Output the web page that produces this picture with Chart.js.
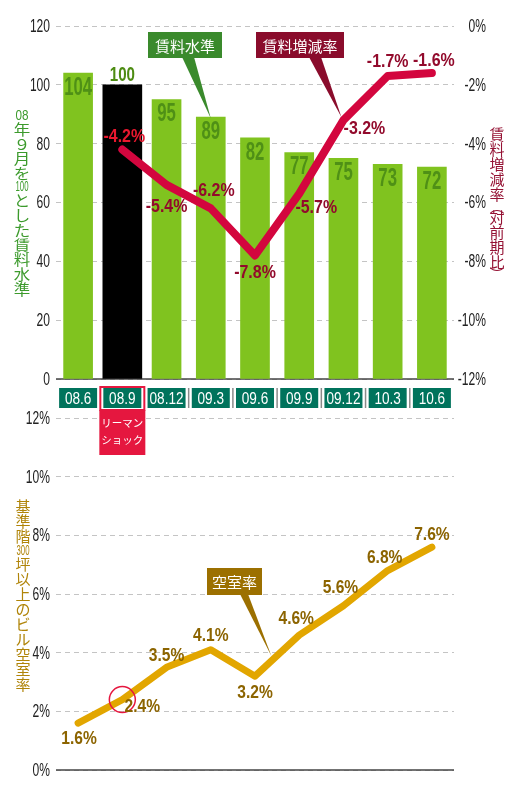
<!DOCTYPE html>
<html>
<head>
<meta charset="utf-8">
<script src="https://cdn.jsdelivr.net/npm/chart.js@4"></script>
<style>
  body { margin: 0; background: #fff; }
  #wrap { position: relative; width: 520px; height: 790px; }
  #bottomChart { position: absolute; left: 0; top: 400px; z-index: 1; }
  #topChart { position: absolute; left: 0; top: 0; z-index: 2; }
</style>
</head>
<body>
<div id="wrap">
  <canvas id="bottomChart" width="520" height="390"></canvas>
  <canvas id="topChart" width="520" height="460"></canvas>
</div>
<script>
// data
var categories = ['08.6', '08.9', '08.12', '09.3', '09.6', '09.9', '09.12', '10.3', '10.6'];
var rentLevel = [104, 100, 95, 89, 82, 77, 75, 73, 72];          // 08年9月=100
var rentChange = [null, -4.2, -5.4, -6.2, -7.8, -5.7, -3.2, -1.7, -1.6]; // 対前期比 %
var vacancy = [1.6, 2.4, 3.5, 4.1, 3.2, 4.6, 5.6, 6.8, 7.6];      // 空室率 %
var shockIndex = 1; // リーマンショック
var levelTicks = { min: 0, max: 120, step: 20 };
var changeTicks = { min: -12, max: 0, step: 2 };
var vacancyTicks = { min: 0, max: 12, step: 2 };

// no condensed face installed, so Liberation Sans gets squeezed by hand
var SANS = '"Liberation Sans", Arial, sans-serif';
var CJK = '"Noto Sans CJK JP", "Noto Sans", sans-serif';

var greenBars = rentLevel.map(function (v, i) { return i === shockIndex ? null : v; });
var blackBars = rentLevel.map(function (v, i) { return i === shockIndex ? v : null; });

// label offsets from each point (style, not data)
var changeLabelOff = [null, [2, -13], [0, 22], [3, -18], [0, 17], [17, 14], [21, 9], [0, -14], [2, -12]];
var vacancyLabelOff = [[1, 16], [20, 7], [0, -12], [0, -14], [0, 17], [-3, -16], [-3, -18], [-3, -13], [0, -12]];

function sqText(ctx, txt, x, y, font, color, sx, align) {
    ctx.save();
    ctx.font = font;
    ctx.fillStyle = color;
    ctx.textAlign = align || 'center';
    ctx.textBaseline = 'middle';
    ctx.translate(x, y);
    ctx.scale(sx, 1);
    ctx.fillText(txt, 0, 0);
    ctx.restore();
}

// vertical Japanese axis title, digit groups set sideways-in-line
function vText(ctx, parts, x, y, size, step, color, wx) {
    var cy = y;
    parts.forEach(function (p) {
        if (/^[0-9]+$/.test(p)) {
            var h = size * 0.72;
            ctx.font = size + 'px ' + SANS;
            var w = ctx.measureText(p).width;
            var sx = Math.min(0.9, (size - 2) / w);
            sqText(ctx, p, x, cy + h / 2 + 1, size + 'px ' + SANS, color, sx);
            cy += h + 2;
        } else if (p === '︵' || p === '︶') {
            sqText(ctx, p, x, cy + 4, size + 'px ' + CJK, color, 1);
            cy += 8;
        } else {
            sqText(ctx, p, x, cy + step / 2, size + 'px ' + CJK, color, wx || 1);
            cy += step;
        }
    });
}

function callout(ctx, box, text, color, tip, base, size) {
    ctx.save();
    ctx.fillStyle = color;
    ctx.beginPath();
    ctx.moveTo(base[0], box[1] + box[3] - 1);
    ctx.lineTo(tip[0], tip[1]);
    ctx.lineTo(base[1], box[1] + box[3] - 1);
    ctx.closePath();
    ctx.fill();
    ctx.fillRect(box[0], box[1], box[2], box[3]);
    ctx.fillStyle = '#fff';
    ctx.font = size + 'px ' + CJK;
    ctx.textAlign = 'center';
    ctx.textBaseline = 'middle';
    ctx.fillText(text, box[0] + box[2] / 2, box[1] + box[3] / 2 + 1);
    ctx.restore();
}

function baseline(chart, scaleId, value) {
    var ctx = chart.ctx, a = chart.chartArea;
    var y = chart.scales[scaleId].getPixelForValue(value);
    ctx.save();
    ctx.strokeStyle = '#444';
    ctx.lineWidth = 1.5;
    ctx.beginPath();
    ctx.moveTo(a.left, y);
    ctx.lineTo(a.right, y);
    ctx.stroke();
    ctx.restore();
}

// tick labels squeezed to look condensed
function drawTicks(chart, scaleId, x, align) {
    var s = chart.scales[scaleId];
    s.ticks.forEach(function (t) {
        sqText(chart.ctx, t.label, x, s.getPixelForValue(t.value) + 1, '18px ' + SANS, '#222', 0.67, align);
    });
}

var topDecor = {
    id: 'topDecor',
    beforeDatasetsDraw: function (chart) {
        baseline(chart, 'y', 0);
    },
    afterDatasetsDraw: function (chart) {
        var ctx = chart.ctx;
        var lineMeta = chart.getDatasetMeta(0);
        var greenMeta = chart.getDatasetMeta(1);
        var blackMeta = chart.getDatasetMeta(2);
        // bar values
        rentLevel.forEach(function (v, i) {
            if (i === shockIndex) {
                var b = blackMeta.data[i];
                sqText(ctx, String(v), b.x, b.y - 10, 'bold 21px ' + SANS, '#4d8c12', 0.72);
            } else {
                var g = greenMeta.data[i];
                sqText(ctx, String(v), g.x, g.y + 15, 'bold 25px ' + SANS, '#4f9016', 0.67);
            }
        });
        // change labels
        rentChange.forEach(function (v, i) {
            if (v === null) return;
            var p = lineMeta.data[i];
            var o = changeLabelOff[i];
            var col = i === shockIndex ? '#e8182f' : '#920a2c';
            sqText(ctx, v.toFixed(1) + '%', p.x + o[0], p.y + o[1], 'bold 19px ' + SANS, col, 0.84);
        });
    },
    afterDraw: function (chart) {
        var ctx = chart.ctx;
        var x = chart.scales.x;
        var top = 388, h = 20, w = 38;
        drawTicks(chart, 'y', 50, 'right');
        drawTicks(chart, 'yR', 486, 'right');
        ctx.save();
        // category boxes
        categories.forEach(function (c, i) {
            var cx = x.getPixelForValue(i);
            if (i === shockIndex) {
                ctx.fillStyle = '#e5173f';
                ctx.fillRect(cx - 23, top + h + 2, 46, 45);
                ctx.strokeStyle = '#e5173f';
                ctx.lineWidth = 2;
                ctx.strokeRect(cx - 22, top - 1, 44, h + 3);
                ctx.fillStyle = '#fff';
                ctx.font = '10.5px ' + CJK;
                ctx.textAlign = 'center';
                ctx.textBaseline = 'middle';
                ctx.fillText('リーマン', cx, top + h + 15);
                ctx.fillText('ショック', cx, top + h + 32);
            }
            ctx.fillStyle = '#00735c';
            ctx.fillRect(cx - w / 2, top, w, h);
            sqText(ctx, c, cx, top + h / 2 + 1, '17px ' + SANS, '#fff', 0.8);
            if (i > shockIndex + 1) {
                var dx = (x.getPixelForValue(i - 1) + cx) / 2;
                ctx.strokeStyle = '#8a8a8a';
                ctx.lineWidth = 1.5;
                ctx.beginPath();
                ctx.moveTo(dx, top);
                ctx.lineTo(dx, top + h);
                ctx.stroke();
            }
        });
        ctx.restore();

        // callouts
        var g = chart.getDatasetMeta(1).data[3];
        callout(ctx, [148, 32, 74, 26], '賃料水準', '#3a8a2c', [g.x, g.y + 1], [182, 194], 15);
        var p = chart.getDatasetMeta(0).data[6];
        callout(ctx, [256, 32, 88, 26], '賃料増減率', '#8a0c2c', [p.x - 2, p.y - 3], [309, 321], 15);

        // axis titles
        vText(ctx, ['08', '年', '９', '月', 'を', '100', 'と', 'し', 'た', '賃', '料', '水', '準'], 22, 109, 15, 14.7, '#3c9a2c', 1.1);
        vText(ctx, ['賃', '料', '増', '減', '率', '︵', '対', '前', '期', '比', '︶'], 497, 127, 15, 15, '#951234', 1);
    }
};

var bottomDecor = {
    id: 'bottomDecor',
    beforeDatasetsDraw: function (chart) {
        baseline(chart, 'y', 0);
    },
    afterDatasetsDraw: function (chart) {
        var ctx = chart.ctx;
        var meta = chart.getDatasetMeta(0);
        // circle on the shock point
        var s = meta.data[shockIndex];
        ctx.save();
        ctx.strokeStyle = '#e5173f';
        ctx.lineWidth = 1.5;
        ctx.beginPath();
        ctx.arc(s.x, s.y, 13, 0, Math.PI * 2);
        ctx.stroke();
        ctx.restore();
        vacancy.forEach(function (v, i) {
            var p = meta.data[i];
            var o = vacancyLabelOff[i];
            sqText(ctx, v.toFixed(1) + '%', p.x + o[0], p.y + o[1], 'bold 19px ' + SANS, '#8c6400', 0.82);
        });
        var a = meta.data[4], b = meta.data[5];
        var t = 0.37;
        callout(ctx, [207, 168, 55, 27], '空室率', '#9c7000',
            [a.x + (b.x - a.x) * t, a.y + (b.y - a.y) * t - 5], [240, 248], 15);
        drawTicks(chart, 'y', 50, 'right');
        vText(ctx, ['基', '準', '階', '300', '坪', '以', '上', 'の', 'ビ', 'ル', '空', '室', '率'], 23, 99, 15, 15, '#b08408', 1);
    }
};

function pctTick(v) { return v + '%'; }

new Chart(document.getElementById('topChart').getContext('2d'), {
    type: 'bar',
    data: {
        labels: categories,
        datasets: [{
            type: 'line',
            data: rentChange,
            yAxisID: 'yR',
            borderColor: '#d3063e',
            borderWidth: 8,
            borderCapStyle: 'round',
            borderJoinStyle: 'round',
            pointRadius: 0,
            tension: 0,
            order: 0
        }, {
            data: greenBars,
            yAxisID: 'y',
            backgroundColor: '#80c31f',
            barThickness: 29,
            grouped: false,
            order: 1
        }, {
            data: blackBars,
            yAxisID: 'y',
            backgroundColor: '#000',
            barThickness: 39,
            grouped: false,
            order: 1
        }]
    },
    options: {
        responsive: false,
        animation: false,
        layout: { padding: { top: 26, bottom: 81, left: 0, right: 34 } },
        plugins: { legend: { display: false }, tooltip: { enabled: false } },
        scales: {
            x: { display: false, offset: true },
            y: {
                position: 'left',
                min: levelTicks.min, max: levelTicks.max,
                ticks: { stepSize: levelTicks.step, display: false },
                grid: { color: '#c4c4c4', drawTicks: false },
                border: { display: false, dash: [5, 4] },
                afterFit: function (s) { s.width = 56; }
            },
            yR: {
                position: 'right',
                min: changeTicks.min, max: changeTicks.max,
                ticks: { stepSize: changeTicks.step, display: false, callback: pctTick },
                grid: { display: false, drawTicks: false },
                border: { display: false },
                afterFit: function (s) { s.width = 32; }
            }
        }
    },
    plugins: [topDecor]
});

new Chart(document.getElementById('bottomChart').getContext('2d'), {
    type: 'line',
    data: {
        labels: categories,
        datasets: [{
            data: vacancy,
            borderColor: '#e2a600',
            borderWidth: 7,
            borderCapStyle: 'round',
            borderJoinStyle: 'round',
            pointRadius: 0,
            tension: 0
        }]
    },
    options: {
        responsive: false,
        animation: false,
        layout: { padding: { top: 18, bottom: 20, left: 0, right: 66 } },
        plugins: { legend: { display: false }, tooltip: { enabled: false } },
        scales: {
            x: { display: false, offset: true },
            y: {
                min: vacancyTicks.min, max: vacancyTicks.max,
                ticks: { stepSize: vacancyTicks.step, display: false, callback: pctTick },
                grid: { color: '#c4c4c4', drawTicks: false },
                border: { display: false, dash: [5, 4] },
                afterFit: function (s) { s.width = 56; }
            }
        }
    },
    plugins: [bottomDecor]
});
</script>
</body>
</html>
